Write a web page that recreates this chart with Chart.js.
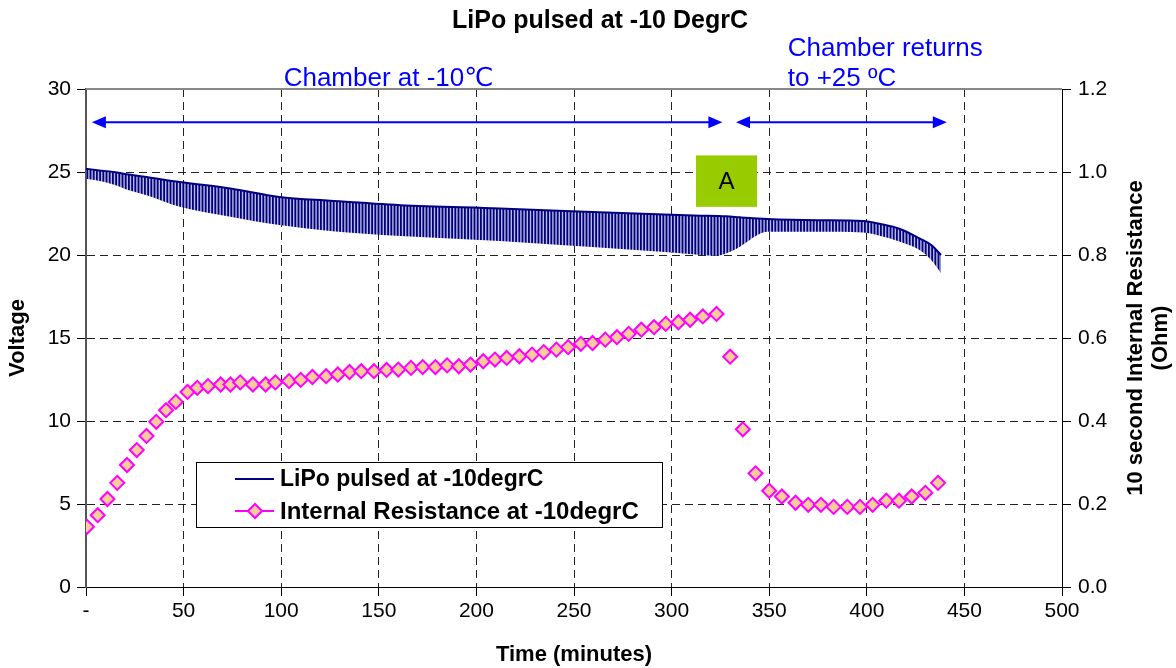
<!DOCTYPE html>
<html>
<head>
<meta charset="utf-8">
<script src="https://cdn.jsdelivr.net/npm/chart.js@4.4.1/dist/chart.umd.min.js"></script>
<style>
  html, body { margin: 0; padding: 0; background: #fff; }
  #wrap { width: 1176px; height: 668px; }
</style>
</head>
<body>
<div id="wrap"><canvas id="grafik"></canvas></div>
<script>
// pulsed voltage: rest level (top of each pulse) and loaded level (bottom)
const voltTime = [0, 5, 14, 22, 31, 48, 74, 99, 125, 161, 212, 263, 300, 315, 323, 328, 335, 344, 349, 375, 398, 407, 417, 427, 433, 438]
const voltHigh = [25.2, 25.12, 25.0, 24.85, 24.7, 24.4, 24.0, 23.5, 23.27, 23.0, 22.8, 22.57, 22.42, 22.37, 22.35, 22.33, 22.27, 22.2, 22.17, 22.1, 22.05, 21.87, 21.57, 21.0, 20.6, 20.0]
const voltLow = [24.6, 24.5, 24.25, 23.9, 23.6, 22.9, 22.3, 21.8, 21.45, 21.15, 20.85, 20.45, 20.15, 20.0, 19.95, 20.1, 20.5, 21.2, 21.4, 21.4, 21.35, 21.15, 20.8, 20.3, 19.7, 18.9]

// 10 s internal resistance (Ohm)
const resTime = [0.5, 6, 11, 16, 21, 26, 31, 36, 41, 46, 52, 57, 62.5, 69, 74, 79, 85.5, 92, 97, 104,
  110, 116, 123, 129, 135, 141, 147.5, 154, 160, 166.5, 172.5, 179, 185, 191, 197, 203.5, 209.5, 215.5, 222, 228.5,
  234.5, 241, 247, 253.5, 259.5, 266, 272, 278, 284.5, 291, 297, 303.5, 309.5, 316, 323,
  330, 336.5, 343, 350, 356.5, 363.5, 370, 376.5, 383, 390, 396.5, 403, 410, 416.5, 423, 430, 436.5]
const resOhm = [0.145, 0.173, 0.212, 0.251, 0.294, 0.330, 0.364, 0.398, 0.426, 0.446, 0.470, 0.480, 0.484, 0.488, 0.488, 0.493, 0.488, 0.488, 0.493, 0.496,
  0.499, 0.506, 0.508, 0.512, 0.518, 0.520, 0.520, 0.523, 0.524, 0.528, 0.530, 0.530, 0.534, 0.532, 0.536, 0.544, 0.548, 0.552, 0.556, 0.560,
  0.566, 0.572, 0.578, 0.586, 0.588, 0.596, 0.602, 0.610, 0.620, 0.626, 0.634, 0.638, 0.644, 0.652, 0.658,
  0.555, 0.380, 0.274, 0.232, 0.218, 0.203, 0.198, 0.198, 0.193, 0.193, 0.193, 0.198, 0.208, 0.208, 0.218, 0.227, 0.251]

const seriesNames = ['LiPo pulsed at -10degrC', 'Internal Resistance at -10degrC']

const FONT = '"Liberation Sans", Arial, "DejaVu Sans", sans-serif'
Chart.defaults.font.family = FONT
Chart.defaults.color = '#000'

// dense vertical strokes between the two voltage levels
function hatchPattern() {
    const c = document.createElement('canvas')
    c.width = 16
    c.height = 4
    const g = c.getContext('2d')
    g.fillStyle = '#b8b8e0'
    g.fillRect(0, 0, 16, 4)
    g.fillStyle = '#000080'
    for (let i = 0; i < 5; i++) g.fillRect(i * 3.2, 0, 1.8, 4)
    return g.createPattern(c, 'repeat')
}

function arrowHead(ctx, x, y, dir) {
    ctx.beginPath()
    ctx.moveTo(x, y)
    ctx.lineTo(x - dir * 14, y - 6)
    ctx.lineTo(x - dir * 14, y + 6)
    ctx.closePath()
    ctx.fill()
}

const annotasi = {
    id: 'annotasi',
    afterDraw(chart) {
        const { ctx, chartArea: a, scales: { x, y } } = chart
        ctx.save()

        // title
        ctx.fillStyle = '#000'
        ctx.font = 'bold 25px ' + FONT
        ctx.textAlign = 'center'
        ctx.textBaseline = 'middle'
        ctx.fillText('LiPo pulsed at -10 DegrC', 600, 21)

        // plot frame top edge
        ctx.strokeStyle = '#888'
        ctx.lineWidth = 2
        ctx.beginPath()
        ctx.moveTo(a.left, a.top)
        ctx.lineTo(a.right, a.top)
        ctx.stroke()

        // chamber phase arrows
        ctx.strokeStyle = '#0000ff'
        ctx.fillStyle = '#0000ff'
        ctx.lineWidth = 2
        const ay = y.getPixelForValue(28)
        ;[[3, 326], [333, 441]].forEach(([t0, t1]) => {
            const x0 = x.getPixelForValue(t0), x1 = x.getPixelForValue(t1)
            ctx.beginPath()
            ctx.moveTo(x0 + 4, ay)
            ctx.lineTo(x1 - 4, ay)
            ctx.stroke()
            arrowHead(ctx, x0, ay, -1)
            arrowHead(ctx, x1, ay, 1)
        })

        ctx.font = '26px ' + FONT
        ctx.textBaseline = 'alphabetic'
        ctx.textAlign = 'center'
        ctx.fillText('Chamber at -10\u2103', x.getPixelForValue(155), 86)
        ctx.textAlign = 'left'
        ctx.fillText('Chamber returns', x.getPixelForValue(359.5), 56)
        ctx.fillText('to +25 \u00baC', x.getPixelForValue(359.5), 86)

        // marker A
        const bx0 = x.getPixelForValue(312.5), bx1 = x.getPixelForValue(343.8)
        const by0 = y.getPixelForValue(26.0), by1 = y.getPixelForValue(22.9)
        ctx.fillStyle = '#99cc00'
        ctx.fillRect(bx0, by0, bx1 - bx0, by1 - by0)
        ctx.fillStyle = '#000'
        ctx.textAlign = 'center'
        ctx.textBaseline = 'middle'
        ctx.font = '24px ' + FONT
        ctx.fillText('A', (bx0 + bx1) / 2, (by0 + by1) / 2 + 1)

        // legend box
        ctx.fillStyle = '#fff'
        ctx.fillRect(196, 462, 466, 65)
        ctx.strokeStyle = '#000'
        ctx.lineWidth = 1
        ctx.strokeRect(196.5, 462.5, 466, 65)
        ctx.strokeStyle = '#000080'
        ctx.lineWidth = 2
        ctx.beginPath()
        ctx.moveTo(235, 479)
        ctx.lineTo(274, 479)
        ctx.stroke()
        ctx.strokeStyle = '#ff00ff'
        ctx.beginPath()
        ctx.moveTo(235, 511)
        ctx.lineTo(274, 511)
        ctx.stroke()
        ctx.beginPath()
        ctx.moveTo(255, 504)
        ctx.lineTo(262, 511)
        ctx.lineTo(255, 518)
        ctx.lineTo(248, 511)
        ctx.closePath()
        ctx.fillStyle = '#ffcc99'
        ctx.fill()
        ctx.stroke()
        ctx.fillStyle = '#000'
        ctx.font = 'bold 23px ' + FONT
        ctx.textAlign = 'left'
        ctx.fillText(seriesNames[0], 280, 480)
        ctx.font = 'bold 24px ' + FONT
        ctx.fillText(seriesNames[1], 280, 512)

        // right axis title, reading bottom to top
        ctx.translate(1148, (a.top + a.bottom) / 2)
        ctx.rotate(-Math.PI / 2)
        ctx.font = 'bold 22px ' + FONT
        ctx.textAlign = 'center'
        ctx.fillText('10 second Internal Resistance', 0, -12)
        ctx.fillText('(Ohm)', 0, 13)

        ctx.restore()
    }
}

new Chart(document.getElementById('grafik'), {
    type: 'line',
    data: {
        datasets: [
            {
                label: seriesNames[0],
                data: voltTime.map((t, i) => ({ x: t, y: voltHigh[i] })),
                borderColor: '#000080',
                borderWidth: 2,
                pointRadius: 0,
                fill: '+1',
                backgroundColor: hatchPattern(),
                cubicInterpolationMode: 'monotone',
                yAxisID: 'y'
            },
            {
                label: 'loaded',
                data: voltTime.map((t, i) => ({ x: t, y: voltLow[i] })),
                borderColor: 'rgba(0,0,0,0)',
                borderWidth: 1,
                pointRadius: 0,
                fill: false,
                cubicInterpolationMode: 'monotone',
                yAxisID: 'y'
            },
            {
                label: seriesNames[1],
                data: resTime.map((t, i) => ({ x: t, y: resOhm[i] })),
                showLine: false,
                pointStyle: 'rectRot',
                pointRadius: 7,
                pointBackgroundColor: '#ffcc99',
                pointBorderColor: '#ff00ff',
                pointBorderWidth: 2,
                yAxisID: 'y2'
            }
        ]
    },
    options: {
        responsive: true,
        maintainAspectRatio: false,
        animation: false,
        devicePixelRatio: 1,
        layout: { padding: { top: 89 } },
        plugins: {
            legend: { display: false },
            tooltip: { enabled: false },
            title: { display: false }
        },
        scales: {
            x: {
                type: 'linear',
                min: 0,
                max: 500,
                ticks: {
                    stepSize: 50,
                    maxRotation: 0,
                    padding: 3,
                    font: { size: 21 },
                    callback: v => v === 0 ? '-' : v
                },
                grid: { color: '#222', tickLength: 9, tickColor: '#000', tickBorderDash: [] },
                border: { color: '#000', width: 1, dash: [8, 5] },
                title: { display: true, text: 'Time (minutes)', font: { size: 22, weight: 'bold' }, padding: 0 },
                afterFit: s => { s.height = 81 }
            },
            y: {
                position: 'left',
                min: 0,
                max: 30,
                ticks: { stepSize: 5, padding: 6, font: { size: 21 } },
                grid: { color: '#222', tickLength: 9, tickColor: '#000', tickBorderDash: [] },
                border: { color: '#555', width: 2, dash: [8, 5] },
                title: { display: true, text: 'Voltage', font: { size: 22, weight: 'bold' }, padding: { top: 5, bottom: 0 } },
                afterFit: s => { s.width = 86 }
            },
            y2: {
                position: 'right',
                min: 0,
                max: 1.2,
                ticks: { stepSize: 0.2, padding: 7, font: { size: 21 }, callback: v => v.toFixed(1) },
                grid: { drawOnChartArea: false, tickLength: 9, tickColor: '#000' },
                border: { color: '#000', width: 1 },
                afterFit: s => { s.width = 114 }
            }
        }
    },
    plugins: [annotasi]
})
</script>
</body>
</html>
